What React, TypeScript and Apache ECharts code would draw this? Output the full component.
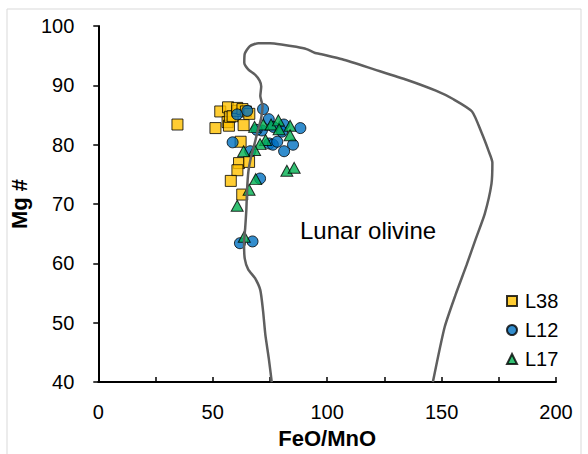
import React, { useEffect, useRef } from "react";
import * as echarts from "echarts";

const X_TICKS = [0, 50, 100, 150, 200];
const Y_TICKS = [40, 50, 60, 70, 80, 90, 100];

const L38: [number, number][] = [
  [34.6, 83.4], [51.2, 82.8], [53.3, 85.6], [56.7, 86.3], [56.5, 83.8], [57.1, 83.2],
  [57.5, 84.7], [58.7, 84.8], [60.8, 85.7], [60.7, 86.2], [63.0, 86.0], [63.5, 83.3],
  [64.5, 85.6], [66.0, 85.2], [62.2, 80.5], [61.5, 76.9], [65.9, 77.1], [60.8, 75.7],
  [57.9, 73.9], [62.9, 71.6],
];

const L12: [number, number][] = [
  [58.7, 80.4], [60.7, 85.1], [65.1, 85.7], [72.0, 86.0], [74.5, 84.3], [71.5, 82.4],
  [69.2, 82.5], [76.5, 83.0], [81.1, 83.4], [80.3, 82.2], [88.3, 82.8], [74.7, 80.2],
  [76.3, 80.0], [78.2, 80.5], [85.1, 80.0], [81.2, 78.9], [66.4, 78.9], [70.7, 74.3],
  [61.9, 63.4], [67.4, 63.7],
];

const L17: [number, number][] = [
  [68.3, 83.0], [72.1, 83.4], [75.5, 83.4], [78.7, 84.1], [79.0, 82.6], [83.8, 83.2],
  [83.8, 81.6], [73.1, 80.8], [70.7, 80.1], [68.3, 79.1], [63.5, 78.9], [68.8, 74.2],
  [65.9, 72.4], [60.7, 69.7], [63.8, 64.5], [82.4, 75.6], [85.6, 76.1],
];

const LUNAR_FIELD: [number, number][] = [
  [75.8, 40], [74.5, 44], [73.0, 48], [72.0, 52], [70.8, 55.5], [68.5, 57.5], [65.5, 59],
  [64.0, 60.8], [63.7, 63.5], [64.2, 66], [64.7, 69], [65.0, 72.3], [65.6, 75.5], [66.8, 78],
  [68.5, 80.5], [69.8, 82.5], [71.2, 84.5], [71.8, 86.5], [70.8, 88.2], [71.2, 89.8],
  [70.5, 90.8], [68.5, 91.8], [65.5, 92.7], [63.8, 93.8], [64.0, 95.3], [66.2, 96.6],
  [70.0, 97.1], [75, 97.1], [80, 96.9], [86.5, 96.5], [91, 96.1], [94.5, 95.5], [98, 95.2],
  [106.6, 94.4], [120.5, 92.7], [135, 90.9], [147.5, 89.1], [155, 87.7], [163.3, 85.6],
  [167.5, 82], [170.5, 79], [172.2, 77], [171.8, 73.4], [168.9, 68.4], [164.9, 64.1],
  [160.9, 59.7], [156.1, 54.7], [151.3, 49.2], [146.2, 40],
];

const FONT = "'Liberation Sans', Arial, sans-serif";

export default function App() {
  const ref = useRef<HTMLDivElement>(null);
  useEffect(() => {
    if (!ref.current) return;
    const chart = echarts.init(ref.current, null, { renderer: "svg" });
    const markerBorder = { borderColor: "#000", borderWidth: 1 };
    chart.setOption({
      animation: false,
      backgroundColor: "#fff",
      textStyle: { fontFamily: FONT },
      grid: { left: 88, right: 32, top: 26, bottom: 65 },
      xAxis: {
        type: "value",
        min: 0,
        max: 200,
        interval: 25,
        name: "FeO/MnO",
        nameLocation: "middle",
        nameGap: 43,
        nameTextStyle: { fontSize: 22, fontWeight: "bold", color: "#000", fontFamily: FONT },
        axisLine: { show: true, lineStyle: { color: "#000", width: 2 } },
        axisTick: { show: true, inside: true, length: 5, lineStyle: { color: "#000", width: 1.5 } },
        axisLabel: {
          fontSize: 20,
          color: "#000",
          margin: 20,
          formatter: (v: number) => (X_TICKS.includes(v) ? String(v) : ""),
        },
        splitLine: { show: false },
      },
      yAxis: {
        type: "value",
        min: Y_TICKS[0],
        max: Y_TICKS[Y_TICKS.length - 1],
        interval: 10,
        name: "Mg #",
        nameLocation: "middle",
        nameGap: 50,
        nameTextStyle: { fontSize: 22, fontWeight: "bold", color: "#000", fontFamily: FONT },
        axisLine: { show: true, lineStyle: { color: "#000", width: 2 } },
        axisTick: { show: true, inside: false, length: 5, lineStyle: { color: "#000", width: 1.5 } },
        axisLabel: { fontSize: 20, color: "#000", margin: 24 },
        splitLine: { show: false },
      },
      legend: {
        orient: "vertical",
        left: 501,
        top: 286,
        itemWidth: 10,
        itemHeight: 10,
        itemGap: 9,
        data: ["L38", "L12", "L17"],
        textStyle: { fontSize: 20, color: "#000", fontFamily: FONT, lineHeight: 20, padding: [0, 0, 0, 3] },
      },
      graphic: [
        {
          type: "rect",
          shape: { x: 7, y: 9, width: 574, height: 460 },
          style: { fill: "none", stroke: "#d9d9d9", lineWidth: 1 },
          silent: true,
        },
        {
          type: "text",
          x: 300,
          y: 230,
          style: { text: "Lunar olivine", fontSize: 24, fill: "#000", fontFamily: FONT, verticalAlign: "middle" },
          z: 10,
        },
      ],
      series: [
        {
          name: "L38",
          type: "scatter",
          symbol: "rect",
          symbolSize: 11,
          itemStyle: { color: "#FFC000", ...markerBorder },
          data: L38,
          z: 2,
        },
        {
          name: "L12",
          type: "scatter",
          symbol: "circle",
          symbolSize: 11,
          itemStyle: { color: "#0070C0", ...markerBorder },
          data: L12,
          z: 3,
        },
        {
          name: "L17",
          type: "scatter",
          symbol: "triangle",
          symbolSize: [12, 11],
          itemStyle: { color: "#00B050", ...markerBorder },
          data: L17,
          z: 4,
        },
        {
          name: "Lunar olivine field",
          type: "line",
          data: LUNAR_FIELD,
          showSymbol: false,
          symbol: "none",
          smooth: 0.2,
          lineStyle: { color: "#5f5f5f", width: 2.5 },
          z: 5,
          silent: true,
        },
      ],
    });
    return () => chart.dispose();
  }, []);
  return <div ref={ref} style={{ position: "absolute", left: 0, top: 0, width: 588, height: 454 }} />;
}
